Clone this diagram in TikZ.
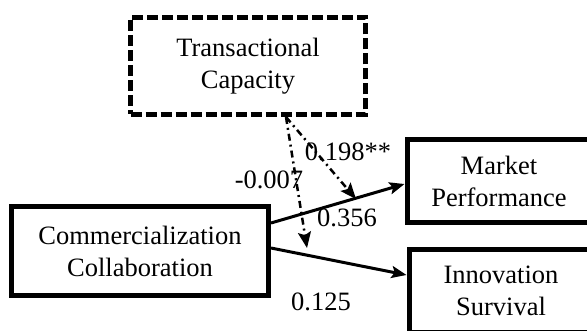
\documentclass[tikz,border=0pt]{standalone}
\usepackage{fontspec}
\setmainfont{Liberation Serif}
\usetikzlibrary{arrows.meta,calc}
\begin{document}
\begin{tikzpicture}[x=1pt,y=-1pt,
  every node/.style={font=\fontsize{26.5}{32}\selectfont},
  box/.style={draw, line width=5pt, align=center, inner sep=0pt},
  dbox/.style={box, line width=5pt, dash pattern=on 11pt off 4pt},
  arr/.style={line width=3pt, -{Stealth[length=15pt,width=12pt,inset=3pt]}},
  darr/.style={line width=2.5pt, dash pattern=on 7pt off 4pt on 2pt off 4pt, -{Stealth[length=16pt,width=13pt,inset=3pt]}},
  lbl/.style={inner sep=0pt}]
\clip (0,0) rectangle (587,331);
\useasboundingbox (0,0) rectangle (587,331);
\node[dbox, minimum width=235pt, minimum height=97pt] (tc) at (248,66) {Transactional\\Capacity};
\node[box, minimum width=257pt, minimum height=89pt] (cc) at (140,251) {Commercialization\\Collaboration};
\node[box, minimum width=184pt, minimum height=83pt] (mp) at (499,181) {Market\\Performance};
\node[box, minimum width=184pt, minimum height=83pt] (is) at (501,291) {Innovation\\Survival};
\coordinate (m1) at (307,248);
\coordinate (m2) at (356,199);
\draw[arr] ([yshift=28pt]cc.east) -- ([yshift=-3pt]mp.west);
\draw[arr] ([yshift=3pt]cc.east) -- ([yshift=16pt]is.west);
\draw[darr] ([xshift=38pt]tc.south) -- (m1);
\draw[darr] ([xshift=38pt]tc.south) -- (m2);
\node[lbl] (l1) at (348,152) {0.198**};
\node[lbl] (l2) at (269,180) {-0.007};
\node[lbl] (l3) at (347,218) {0.356};
\node[lbl] (l4) at (321,302) {0.125};
\end{tikzpicture}
\end{document}
